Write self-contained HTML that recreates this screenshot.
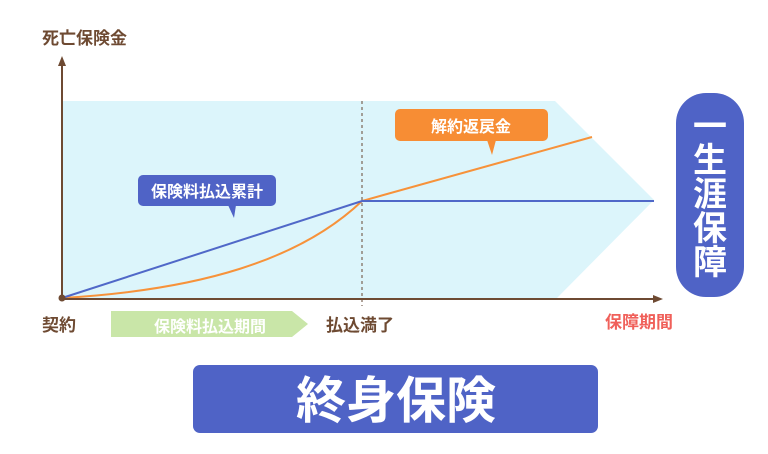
<!DOCTYPE html>
<html><head><meta charset="utf-8"><style>
body{margin:0;background:#fff}
svg{display:block}
text{font-family:"Liberation Sans","Noto Sans CJK JP",sans-serif;font-weight:bold}
</style></head><body>
<svg width="768" height="454" viewBox="0 0 768 454" xmlns="http://www.w3.org/2000/svg">
<polygon points="62,101 555,101 654,200 557,298 62,298" fill="#dcf5fb"/>
<line x1="362" y1="101" x2="362" y2="306" stroke="#7a6455" stroke-width="1.2" stroke-dasharray="3,3"/>
<path d="M62,298 C200,290 300,260 362,201 L592,137" fill="none" stroke="#f7923a" stroke-width="2"/>
<path d="M62,298 L362,201 L654,201" fill="none" stroke="#5068c8" stroke-width="2"/>
<line x1="62" y1="298" x2="62" y2="64" stroke="#6e4a32" stroke-width="2"/>
<polygon points="62,56 58,66 66,66" fill="#6e4a32"/>
<line x1="62" y1="299" x2="656" y2="299" stroke="#6e4a32" stroke-width="2"/>
<polygon points="663,299 653,295 653,303" fill="#6e4a32"/>
<circle cx="62" cy="298" r="3.5" fill="#6e4a32"/>
<text x="42" y="44" font-size="17" fill="#6e4a32">死亡保険金</text>
<rect x="138" y="175" width="138" height="31" rx="5" fill="#4f63c6"/>
<polygon points="228,205 236,205 234,218" fill="#4f63c6"/>
<text x="207" y="197" font-size="16" fill="#fff" text-anchor="middle">保険料払込累計</text>
<rect x="395" y="109" width="153" height="32" rx="5" fill="#f78d34"/>
<polygon points="487,140 496,140 492,155" fill="#f78d34"/>
<text x="471" y="132" font-size="16" fill="#fff" text-anchor="middle">解約返戻金</text>
<rect x="676" y="93" width="68" height="204" rx="30" fill="#4f63c6"/>
<text x="710" y="138" font-size="34" fill="#fff" text-anchor="middle">一</text>
<text x="710" y="172" font-size="34" fill="#fff" text-anchor="middle">生</text>
<text x="710" y="206" font-size="34" fill="#fff" text-anchor="middle">涯</text>
<text x="710" y="240" font-size="34" fill="#fff" text-anchor="middle">保</text>
<text x="710" y="274" font-size="34" fill="#fff" text-anchor="middle">障</text>
<text x="42" y="331" font-size="17" fill="#6e4a32">契約</text>
<polygon points="111,311 292,311 308,324 292,337 111,337" fill="#c9e6a8"/>
<text x="210" y="332" font-size="16" fill="#fff" text-anchor="middle">保険料払込期間</text>
<text x="326" y="331" font-size="17" fill="#6e4a32">払込満了</text>
<text x="605" y="328" font-size="17" fill="#f0605a">保障期間</text>
<rect x="193" y="365" width="405" height="68" rx="7" fill="#4f63c6"/>
<text x="396" y="418" font-size="50" fill="#fff" text-anchor="middle">終身保険</text>
</svg>
</body></html>
